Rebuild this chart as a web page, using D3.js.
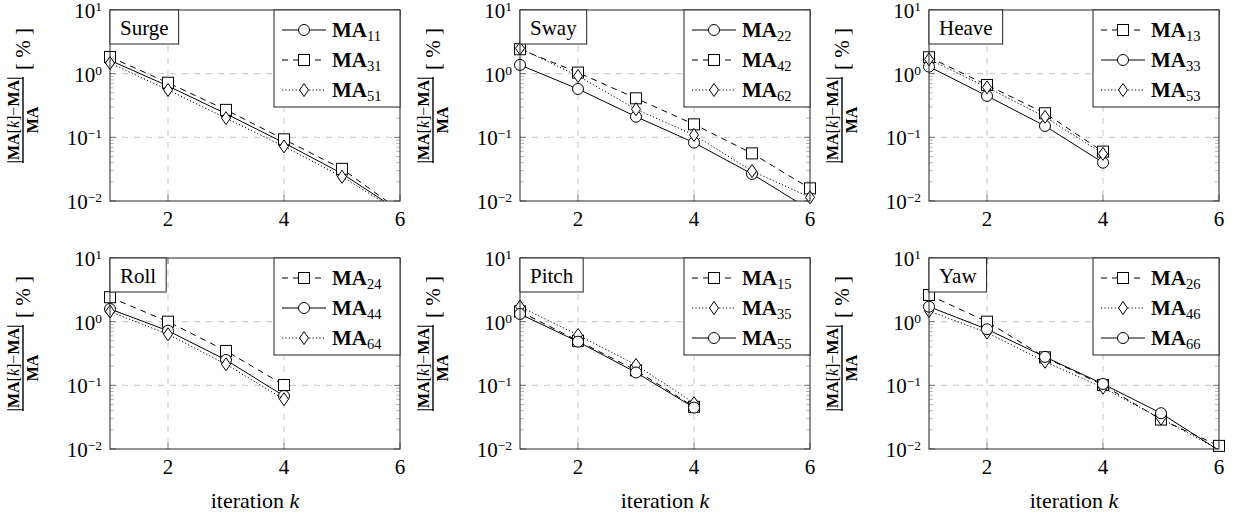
<!DOCTYPE html>
<html>
<head>
<meta charset="utf-8">
<script src="https://cdn.jsdelivr.net/npm/d3@7"></script>
<style>
  body { margin: 0; background: #fff; }
  svg text { font-family: "Liberation Serif", "DejaVu Serif", "Times New Roman", serif; fill: #000; }
</style>
</head>
<body>
<div id="chart"></div>
<script>
// iteration index k
const iterations = [1, 2, 3, 4, 5, 6];
const xTicks = [2, 4, 6];
const yTicks = [-2, -1, 0, 1]; // exponents of 10
const panelNames = ['Surge', 'Sway', 'Heave', 'Roll', 'Pitch', 'Yaw'];

// relative error [%] per iteration
const surgeMA11 = [1.62, 0.64, 0.235, 0.082, 0.027, 0.0068];
const surgeMA31 = [1.83, 0.72, 0.27, 0.093, 0.032, 0.0071];
const surgeMA51 = [1.47, 0.555, 0.20, 0.072, 0.024, 0.0066];

const swayMA22 = [1.37, 0.575, 0.211, 0.0826, 0.0266, 0.0073];
const swayMA42 = [2.42, 1.04, 0.41, 0.16, 0.056, 0.0158];
const swayMA62 = [2.5, 0.92, 0.276, 0.109, 0.0296, 0.0114];

const heaveMA13 = [1.81, 0.665, 0.239, 0.0597];
const heaveMA33 = [1.29, 0.447, 0.151, 0.040];
const heaveMA53 = [1.68, 0.61, 0.21, 0.055];

const rollMA24 = [2.42, 1.0, 0.347, 0.101];
const rollMA44 = [1.58, 0.72, 0.25, 0.068];
const rollMA64 = [1.44, 0.634, 0.214, 0.0605];

const pitchMA15 = [1.45, 0.50, 0.172, 0.046];
const pitchMA35 = [1.72, 0.618, 0.209, 0.0525];
const pitchMA55 = [1.32, 0.485, 0.159, 0.0447];

const yawMA26 = [2.62, 1.0, 0.275, 0.101, 0.029, 0.0112];
const yawMA46 = [1.47, 0.673, 0.235, 0.092, 0.030, 0.0098];
const yawMA66 = [1.72, 0.76, 0.28, 0.105, 0.0365, 0.0095];

// series in legend (and drawing) order: [subscript, marker, values]
const panelSeries = [
  [['11', 'circle', surgeMA11], ['31', 'square', surgeMA31], ['51', 'diamond', surgeMA51]],
  [['22', 'circle', swayMA22], ['42', 'square', swayMA42], ['62', 'diamond', swayMA62]],
  [['13', 'square', heaveMA13], ['33', 'circle', heaveMA33], ['53', 'diamond', heaveMA53]],
  [['24', 'square', rollMA24], ['44', 'circle', rollMA44], ['64', 'diamond', rollMA64]],
  [['15', 'square', pitchMA15], ['35', 'diamond', pitchMA35], ['55', 'circle', pitchMA55]],
  [['26', 'square', yawMA26], ['46', 'diamond', yawMA46], ['66', 'circle', yawMA66]]
];

// each marker goes with one line style
const dashFor = { circle: null, square: '6,5', diamond: '1.2,2.2' };

const W = 1243, H = 514;
const colLeft = [110, 520, 929];
const rowTop = [10, 258];
const pw = 290, ph = 191;

const svg = d3.select('#chart').append('svg')
  .attr('width', W).attr('height', H)
  .attr('font-family', '"Liberation Serif", "DejaVu Serif", serif');

function drawMarker(g, type, x, y) {
  if (type === 'circle') {
    g.append('circle').attr('cx', x).attr('cy', y).attr('r', 5.5)
      .attr('fill', '#fff').attr('stroke', '#000').attr('stroke-width', 1);
  } else if (type === 'square') {
    g.append('rect').attr('x', x - 5.5).attr('y', y - 5.5).attr('width', 11).attr('height', 11)
      .attr('fill', '#fff').attr('stroke', '#000').attr('stroke-width', 1);
  } else {
    g.append('path').attr('d', `M${x},${y - 6.5}L${x + 4.5},${y}L${x},${y + 6.5}L${x - 4.5},${y}Z`)
      .attr('fill', '#fff').attr('stroke', '#000').attr('stroke-width', 1);
  }
}

panelNames.forEach((name, i) => {
  const left = colLeft[i % 3];
  const top = rowTop[Math.floor(i / 3)];
  const isBottom = i >= 3;

  const x = d3.scaleLinear().domain([1, 6]).range([left, left + pw]);
  const y = d3.scaleLog().domain([0.01, 10]).range([top + ph, top]);

  const g = svg.append('g');

  // grid (dashed grey at major ticks)
  g.selectAll('.gx').data([2, 4]).enter().append('line')
    .attr('x1', d => x(d)).attr('x2', d => x(d))
    .attr('y1', top).attr('y2', top + ph)
    .attr('stroke', '#c4c4c4').attr('stroke-dasharray', '6,6');
  g.selectAll('.gy').data([0, -1]).enter().append('line')
    .attr('x1', left).attr('x2', left + pw)
    .attr('y1', d => y(Math.pow(10, d))).attr('y2', d => y(Math.pow(10, d)))
    .attr('stroke', '#c4c4c4').attr('stroke-dasharray', '6,6');

  // minor y ticks, both sides, inward
  const minors = [];
  [-2, -1, 0].forEach(e => { for (let m = 2; m <= 9; m++) minors.push(m * Math.pow(10, e)); });
  [[left, 1], [left + pw, -1]].forEach(([x0, dir]) => {
    g.selectAll(null).data(minors).enter().append('line')
      .attr('x1', x0).attr('x2', x0 + dir * 4)
      .attr('y1', d => y(d)).attr('y2', d => y(d))
      .attr('stroke', '#aaa').attr('stroke-width', 0.8);
    g.selectAll(null).data(yTicks).enter().append('line')
      .attr('x1', x0).attr('x2', x0 + dir * 6)
      .attr('y1', d => y(Math.pow(10, d))).attr('y2', d => y(Math.pow(10, d)))
      .attr('stroke', '#777');
  });
  // x ticks top & bottom
  [[top + ph, -1], [top, 1]].forEach(([y0, dir]) => {
    g.selectAll(null).data(xTicks).enter().append('line')
      .attr('x1', d => x(d)).attr('x2', d => x(d))
      .attr('y1', y0).attr('y2', y0 + dir * 6)
      .attr('stroke', '#777');
  });

  // clip for the lines
  const clipId = 'clip' + i;
  svg.append('clipPath').attr('id', clipId).append('rect')
    .attr('x', left).attr('y', top).attr('width', pw).attr('height', ph);

  const line = d3.line().x(d => x(d[0])).y(d => y(d[1]));

  panelSeries[i].forEach(([sub, marker, vals]) => {
    const pts = vals.map((v, j) => [iterations[j], v]);
    g.append('path').datum(pts)
      .attr('clip-path', `url(#${clipId})`)
      .attr('d', line)
      .attr('fill', 'none').attr('stroke', '#000').attr('stroke-width', 1)
      .attr('stroke-dasharray', dashFor[marker]);
    // marks only for points inside the axis limits
    pts.filter(p => p[1] >= 0.01 && p[1] <= 10)
      .forEach(p => drawMarker(g, marker, x(p[0]), y(p[1])));
  });

  // axis frame
  g.append('rect').attr('x', left).attr('y', top).attr('width', pw).attr('height', ph)
    .attr('fill', 'none').attr('stroke', '#222').attr('stroke-width', 1);

  // y tick labels 10^e
  yTicks.forEach(e => {
    const t = g.append('text')
      .attr('x', left - 8).attr('y', y(Math.pow(10, e)) + 8)
      .attr('text-anchor', 'end').style('font-size', '21px');
    t.append('tspan').text('10');
    t.append('tspan').attr('dy', -7).style('font-size', '13.5px').text(e < 0 ? '\u2212' + (-e) : e);
  });

  // x tick labels
  g.selectAll(null).data(xTicks).enter().append('text')
    .attr('x', d => x(d)).attr('y', top + ph + 25)
    .attr('text-anchor', 'middle').style('font-size', '21px')
    .text(d => d);

  // y label: |MA[k]-MA| / MA  [%]
  const lab = g.append('g')
    .attr('transform', `translate(${left - 87},${top + 110}) rotate(-90)`);
  const num = lab.append('text').attr('x', 0).attr('y', -4)
    .attr('text-anchor', 'middle').style('font-size', '16px');
  num.append('tspan').style('font-weight', 'bold').text('|MA');
  num.append('tspan').text('[');
  num.append('tspan').style('font-style', 'italic').text('k');
  num.append('tspan').text(']\u2212');
  num.append('tspan').style('font-weight', 'bold').text('MA|');
  lab.append('line').attr('x1', -43).attr('x2', 43).attr('y1', 0).attr('y2', 0)
    .attr('stroke', '#000').attr('stroke-width', 1.4);
  lab.append('text').attr('x', 0).attr('y', 15).attr('text-anchor', 'middle')
    .style('font-size', '16px').style('font-weight', 'bold').text('MA');
  lab.append('text').attr('x', 50).attr('y', 7).style('font-size', '21px').text('[ % ]');

  // x label (bottom row only)
  if (isBottom) {
    const xl = g.append('text')
      .attr('x', left + pw / 2).attr('y', top + ph + 59)
      .attr('text-anchor', 'middle').style('font-size', '22px');
    xl.append('tspan').text('iteration ');
    xl.append('tspan').style('font-style', 'italic').text('k');
  }

  // title box
  const tt = g.append('text').attr('x', left + 10).attr('y', top + 25)
    .style('font-size', '21px').text(name);
  const tw = tt.node().getComputedTextLength();
  g.insert('rect', () => tt.node())
    .attr('x', left).attr('y', top).attr('width', tw + 20).attr('height', 34)
    .attr('fill', '#fff').attr('stroke', '#222').attr('stroke-width', 1);

  // legend
  const lw = 126, lh = 97;
  const lx = left + pw - lw;
  const leg = g.append('g');
  leg.append('rect').attr('x', lx).attr('y', top).attr('width', lw).attr('height', lh)
    .attr('fill', '#fff').attr('stroke', '#222').attr('stroke-width', 1);
  panelSeries[i].forEach(([sub, marker], r) => {
    const cy = top + 20 + r * 30;
    leg.append('line').attr('x1', lx + 8).attr('x2', lx + 52).attr('y1', cy).attr('y2', cy)
      .attr('stroke', '#000').attr('stroke-width', 1)
      .attr('stroke-dasharray', dashFor[marker]);
    drawMarker(leg, marker, lx + 30, cy);
    const t = leg.append('text').attr('x', lx + 58).attr('y', cy + 7).style('font-size', '21px');
    t.append('tspan').style('font-weight', 'bold').text('MA');
    t.append('tspan').attr('dy', 4).style('font-size', '14.5px').text(sub);
  });
});
</script>
</body>
</html>
